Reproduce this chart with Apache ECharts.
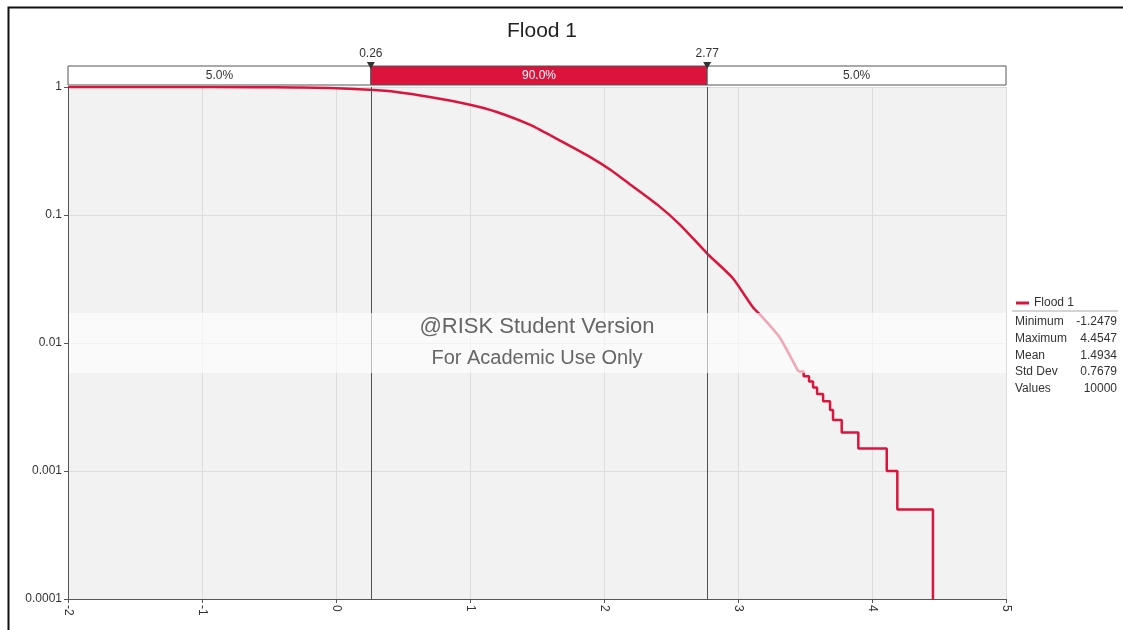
<!DOCTYPE html>
<html><head><meta charset="utf-8">
<script src="https://cdn.jsdelivr.net/npm/echarts@6/dist/echarts.min.js"></script>
<style>html,body{margin:0;padding:0;background:#fff}#c{width:1123px;height:630px}</style>
</head><body><div id="c"></div>
<script>
const chartTitle = 'Flood 1';
const seriesName = 'Flood 1';
const xTicks = [-2, -1, 0, 1, 2, 3, 4, 5];
const yTickLabels = ['0.0001', '0.001', '0.01', '0.1', '1'];
// smooth part of the exceedance curve (value, probability of exceeding)
const curveX = [-2, -1.25, -0.6, -0.3, -0.05, 0.25, 0.45, 0.7, 1.0, 1.2, 1.45, 1.69, 1.9, 2.05, 2.19, 2.4, 2.57, 2.77, 2.96, 3.11, 3.18, 3.31, 3.45];
const curveP = [1, 1, 0.997, 0.99, 0.982, 0.95, 0.914, 0.835, 0.727, 0.638, 0.505, 0.372, 0.282, 0.225, 0.175, 0.120, 0.0835, 0.05, 0.0322, 0.0191, 0.016, 0.0111, 0.006];
// stepped tail
const tailX = [3.45, 3.49, 3.53, 3.56, 3.59, 3.635, 3.687, 3.709, 3.774, 3.898, 4.110, 4.189, 4.4547];
const tailP = [0.006, 0.0055, 0.005, 0.0045, 0.004, 0.0035, 0.003, 0.0025, 0.002, 0.0015, 0.001, 0.0005, 0.0001];
const bandEdges = [-2, 0.26, 2.77, 5];
const bandLabels = ['5.0%', '90.0%', '5.0%'];
const markerValues = [0.26, 2.77];
const markerLabels = ['0.26', '2.77'];
const statLabels = ['Minimum', 'Maximum', 'Mean', 'Std Dev', 'Values'];
const statValues = ['-1.2479', '4.4547', '1.4934', '0.7679', '10000'];

const FONT = 'Liberation Sans, Arial, sans-serif';
const RED = '#DC143C';

const chart = echarts.init(document.getElementById('c'), null, {renderer: 'canvas'});

const statGraphics = [];
statLabels.forEach((l, i) => {
  statGraphics.push({type: 'text', left: 1015, top: 316 + i * 16.6, z: 50,
    style: {text: l, fontSize: 12, fontFamily: FONT, fill: '#333'}});
  statGraphics.push({type: 'text', right: 6, top: 316 + i * 16.6, z: 50,
    style: {text: statValues[i], fontSize: 12, fontFamily: FONT, fill: '#333', textAlign: 'right'}});
});

const option = {
  animation: false,
  backgroundColor: '#fff',
  textStyle: {fontFamily: FONT},
  title: {text: chartTitle, left: 537, top: 16, textAlign: 'center',
    textStyle: {fontSize: 21, fontWeight: 'normal', color: '#222', fontFamily: FONT}},
  legend: {data: [{name: seriesName, icon: 'rect'}], left: 1011, top: 292, itemWidth: 13, itemHeight: 3,
    textStyle: {fontSize: 12, color: '#333', fontFamily: FONT}},
  grid: [
    {left: 68, right: 117, top: 87, bottom: 31, show: true, backgroundColor: '#f2f2f2', borderWidth: 0},
    {left: 68, right: 117, top: 66, height: 19, show: false}
  ],
  xAxis: [
    {type: 'value', gridIndex: 0, min: xTicks[0], max: xTicks[xTicks.length - 1], interval: 1,
      axisLine: {show: true, onZero: false, lineStyle: {color: '#555'}},
      axisTick: {show: true, length: 4, lineStyle: {color: '#555'}},
      axisLabel: {rotate: -90, fontSize: 12, color: '#333', margin: 6, fontFamily: FONT},
      splitLine: {show: true, lineStyle: {color: '#dcdcdc'}}},
    {type: 'value', gridIndex: 1, min: xTicks[0], max: xTicks[xTicks.length - 1], show: false}
  ],
  yAxis: [
    {type: 'log', logBase: 10, gridIndex: 0, min: 0.0001, max: 1,
      axisLine: {show: true, onZero: false, lineStyle: {color: '#555'}},
      axisTick: {show: true, length: 4, lineStyle: {color: '#555'}},
      axisLabel: {fontSize: 12, color: '#333', margin: 6, fontFamily: FONT,
        formatter: v => yTickLabels[Math.round(Math.log10(v)) + 4]},
      splitLine: {show: true, lineStyle: {color: '#dcdcdc'}}},
    {type: 'value', gridIndex: 1, min: 0, max: 1, show: false}
  ],
  series: [
    {name: seriesName, type: 'line', xAxisIndex: 0, yAxisIndex: 0, showSymbol: false, smooth: 0.2,
      lineStyle: {color: RED, width: 2.5}, itemStyle: {color: RED},
      data: curveX.map((x, i) => [x, curveP[i]]),
      markLine: {silent: true, symbol: 'none', label: {show: false},
        lineStyle: {color: '#505050', width: 1, type: 'solid'},
        data: markerValues.map(v => ({xAxis: v}))}},
    {name: seriesName, type: 'line', xAxisIndex: 0, yAxisIndex: 0, showSymbol: false, step: 'end',
      lineStyle: {color: RED, width: 2.5}, itemStyle: {color: RED},
      data: tailX.map((x, i) => [x, tailP[i]])},
    {type: 'custom', xAxisIndex: 1, yAxisIndex: 1, clip: false, silent: true,
      data: bandLabels.map((l, i) => [bandEdges[i], bandEdges[i + 1], i]),
      renderItem: (params, api) => {
        const a = api.coord([api.value(0), 0]);
        const b = api.coord([api.value(1), 1]);
        const idx = api.value(2);
        const mid = idx === 1;
        return {type: 'group', children: [
          {type: 'rect', shape: {x: a[0], y: b[1], width: b[0] - a[0], height: a[1] - b[1]},
            style: {fill: mid ? RED : '#fff', stroke: '#555', lineWidth: 1}},
          {type: 'text', x: (a[0] + b[0]) / 2, y: (a[1] + b[1]) / 2,
            style: {text: bandLabels[idx], fill: mid ? '#fff' : '#333', fontSize: 12, fontFamily: FONT,
              align: 'center', verticalAlign: 'middle'}}
        ]};
      }},
    {type: 'custom', xAxisIndex: 1, yAxisIndex: 1, clip: false, silent: true, z: 5,
      data: markerValues.map((v, i) => [v, i]),
      renderItem: (params, api) => {
        const p = api.coord([api.value(0), 1]);
        return {type: 'group', children: [
          {type: 'polygon', shape: {points: [[p[0] - 4, p[1] - 4], [p[0] + 4, p[1] - 4], [p[0], p[1] + 3]]},
            style: {fill: '#333'}},
          {type: 'text', x: p[0], y: p[1] - 6,
            style: {text: markerLabels[api.value(1)], fill: '#333', fontSize: 12, fontFamily: FONT,
              align: 'center', verticalAlign: 'bottom'}}
        ]};
      }}
  ],
  graphic: [
    {type: 'rect', left: 6, top: 5, z: 0, silent: true,
      shape: {width: 1130, height: 640}, style: {fill: 'none', stroke: '#111', lineWidth: 2}},
    {type: 'rect', left: 69, top: 313, z: 100, silent: true,
      shape: {width: 937, height: 60}, style: {fill: 'rgba(255,255,255,0.62)'}},
    {type: 'text', x: 537, y: 327, z: 101, silent: true,
      style: {text: '@RISK Student Version', fontSize: 22, fontFamily: FONT, fill: '#666', align: 'center', verticalAlign: 'middle'}},
    {type: 'text', x: 537, y: 358, z: 101, silent: true,
      style: {text: 'For Academic Use Only', fontSize: 20, fontFamily: FONT, fill: '#666', align: 'center', verticalAlign: 'middle'}},
    {type: 'line', z: 50, silent: true, shape: {x1: 1012, y1: 311, x2: 1118, y2: 311},
      style: {stroke: '#aaa', lineWidth: 1}},
    ...statGraphics
  ]
};
chart.setOption(option);
</script></body></html>
